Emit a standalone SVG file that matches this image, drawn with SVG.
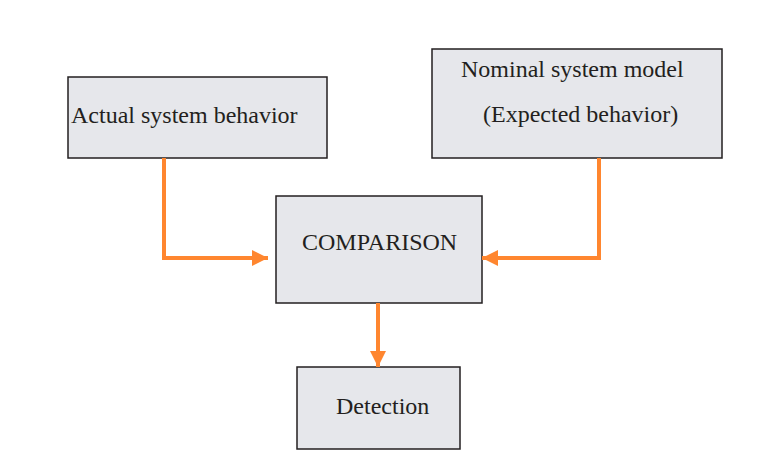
<svg xmlns="http://www.w3.org/2000/svg" width="778" height="455" viewBox="0 0 778 455">
<defs>
<style>
.box{fill:#E6E7EB;stroke:#231F20;stroke-width:1.5}
.lbl{font-family:'Liberation Serif','Times New Roman',serif;font-size:24px;fill:#231F20}
.conn{fill:none;stroke:#FF862F;stroke-width:4}
</style>
<marker id="ah" markerUnits="userSpaceOnUse" markerWidth="18" markerHeight="18" viewBox="0 0 18 18" refX="16" refY="9" orient="auto">
<path d="M0,1 L16,9 L0,17 Z" fill="#FF862F"/>
</marker>
</defs>
<rect width="778" height="455" fill="#FFFFFF"/>
<g id="actual">
<rect class="box" x="68" y="77" width="259" height="81"/>
<text class="lbl" font-family="Liberation Serif, serif" x="71" y="123">Actual system behavior</text>
</g>
<g id="nominal">
<rect class="box" x="432" y="49" width="290" height="109"/>
<text class="lbl" font-family="Liberation Serif, serif" x="461" y="77">Nominal system model</text>
<text class="lbl" font-family="Liberation Serif, serif" x="483" y="122">(Expected behavior)</text>
</g>
<g id="comparison">
<rect class="box" x="276" y="196" width="206" height="107"/>
<text class="lbl" font-family="Liberation Serif, serif" x="302" y="250">COMPARISON</text>
</g>
<g id="detection">
<rect class="box" x="297" y="367" width="163" height="82"/>
<text class="lbl" font-family="Liberation Serif, serif" x="336" y="414">Detection</text>
</g>
<g id="connectors">
<polyline class="conn" points="164,158 164,258 268,258" marker-end="url(#ah)"/>
<polyline class="conn" points="599,158 599,258 482,258" marker-end="url(#ah)"/>
<polyline class="conn" points="378,303 378,367" marker-end="url(#ah)"/>
</g>
</svg>
